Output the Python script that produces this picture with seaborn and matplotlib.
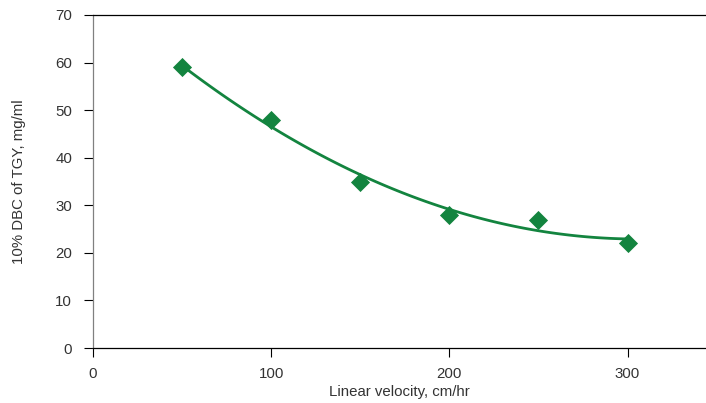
import matplotlib
matplotlib.use("Agg")
import matplotlib.pyplot as plt
import seaborn as sns
import pandas as pd

velocity = [50, 100, 150, 200, 250, 300]
dbc = [59, 48, 35, 28, 27, 22]
x_ticks = [0, 100, 200, 300]
y_ticks = [0, 10, 20, 30, 40, 50, 60, 70]

green = "#13843f"
text_color = "#333333"

sns.set_theme(style="white")
plt.rcParams['font.family'] = ['Liberation Sans', 'DejaVu Sans']

df = pd.DataFrame({"velocity": velocity, "dbc": dbc})

fig = plt.figure(figsize=(7.06, 4.03), dpi=100)
ax = fig.add_axes([93/706, 55/403, (706-93)/706, 333/403])

sns.regplot(data=df, x="velocity", y="dbc", order=2, ci=None, truncate=True,
            marker="D", color=green, ax=ax,
            scatter_kws={"s": 95, "linewidths": 0, "alpha": 1, "zorder": 3},
            line_kws={"linewidth": 2.0, "zorder": 2})

ax.set_xlim(0, 344)
ax.set_ylim(0, 70)
ax.set_xticks(x_ticks)
ax.set_yticks(y_ticks)
ax.tick_params(axis="both", bottom=True, left=True, labelsize=10.8,
               labelcolor=text_color, colors="black",
               length=6.5, width=0.8, direction="out")
ax.tick_params(axis="x", pad=7)
ax.tick_params(axis="y", pad=8.5)

for s in ["top", "bottom"]:
    ax.spines[s].set_visible(True)
    ax.spines[s].set_color("black")
    ax.spines[s].set_linewidth(0.9)
ax.spines["left"].set_color("#808080")
ax.spines["left"].set_linewidth(0.9)
ax.spines["right"].set_visible(False)

ax.set_xlabel("Linear velocity, cm/hr", fontsize=10.8, color=text_color, labelpad=3)
ax.set_ylabel("10% DBC of TGY, mg/ml", fontsize=10.8, color=text_color, labelpad=21)

fig.savefig("out.png", dpi=100)
